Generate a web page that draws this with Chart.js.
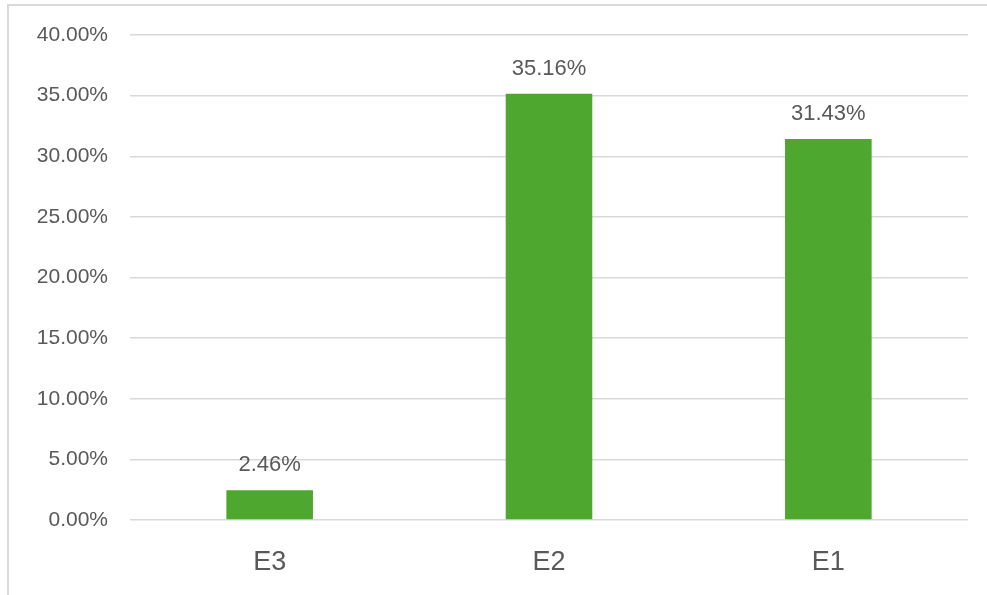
<!DOCTYPE html>
<html>
<head>
<meta charset="utf-8">
<script src="https://cdn.jsdelivr.net/npm/chart.js@4"></script>
<style>
  html, body { margin: 0; padding: 0; background: #fff; }
  #wrap { position: relative; width: 987px; height: 595px; }
  #frame { position: absolute; left: 7px; top: 4px; right: 0; bottom: 0;
           border-left: 2px solid #d9d9d9; border-top: 2px solid #d9d9d9; }
  canvas { position: absolute; left: 0; top: 0; }
</style>
</head>
<body>
<div id="wrap">
  <div id="frame"></div>
  <canvas id="chart" width="987" height="595"></canvas>
</div>
<script>
// data
const categories = ['E3', 'E2', 'E1'];
const shares = [2.46, 35.16, 31.43];
const tickLabels = ['0.00%', '5.00%', '10.00%', '15.00%', '20.00%', '25.00%', '30.00%', '35.00%', '40.00%'];

// value labels over the bars
const valueLabels = {
    id: 'valueLabels',
    afterDatasetsDraw(chart) {
        const ctx = chart.ctx;
        const meta = chart.getDatasetMeta(0);
        ctx.save();
        ctx.font = '22px "Liberation Sans", Arial, sans-serif';
        ctx.fillStyle = '#595959';
        ctx.textAlign = 'center';
        ctx.textBaseline = 'alphabetic';
        meta.data.forEach((bar, i) => {
            ctx.fillText(shares[i].toFixed(2) + '%', bar.x, bar.y - 19);
        });
        ctx.restore();
    }
};

const config = {
    type: 'bar',
    data: {
        labels: categories,
        datasets: [{
            data: shares,
            backgroundColor: '#4ea72e',
            categoryPercentage: 1,
            barPercentage: 0.31
        }]
    },
    options: {
        responsive: false,
        animation: false,
        layout: { padding: { left: 0, right: 19, top: 35, bottom: 0 } },
        plugins: { legend: { display: false }, tooltip: { enabled: false } },
        scales: {
            x: {
                grid: { display: false, drawTicks: false },
                border: { display: false },
                ticks: {
                    color: '#595959',
                    font: { family: '"Liberation Sans", Arial, sans-serif', size: 27 },
                    padding: 26
                },
                afterFit(scale) { scale.height = 75; }
            },
            y: {
                min: 0,
                max: 40,
                grid: { color: '#d9d9d9', lineWidth: 1.5, drawTicks: false },
                border: { display: false },
                ticks: {
                    stepSize: 5,
                    color: '#595959',
                    font: { family: '"Liberation Sans", Arial, sans-serif', size: 21 },
                    padding: 22,
                    callback: (v, i) => tickLabels[i]
                },
                afterFit(scale) { scale.width = 130; }
            }
        }
    },
    plugins: [valueLabels]
};

const chart = new Chart(document.getElementById('chart'), config);
</script>
</body>
</html>
